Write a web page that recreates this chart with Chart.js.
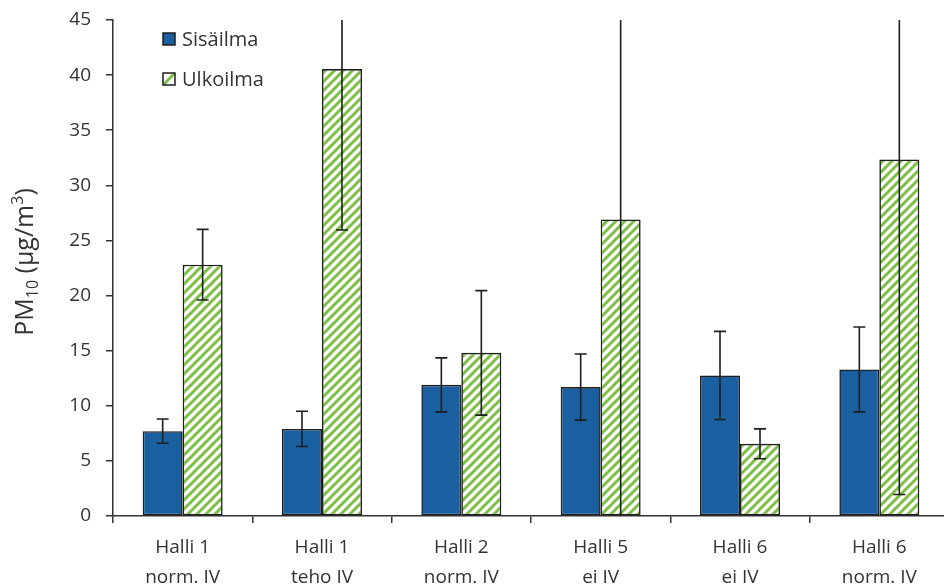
<!DOCTYPE html>
<html>
<head>
<meta charset="utf-8">
<script src="https://cdn.jsdelivr.net/npm/chart.js@4/dist/chart.umd.min.js"></script>
<style>
  html, body { margin: 0; padding: 0; background: #fff; overflow: hidden; }
  #wrap { width: 950px; height: 588px; }
</style>
</head>
<body>
<div id="wrap"><canvas id="c" width="950" height="588"></canvas></div>
<script>
// Measurement sites (two-line labels)
const categories = [
  ['Halli 1', 'norm. IV'],
  ['Halli 1', 'teho IV'],
  ['Halli 2', 'norm. IV'],
  ['Halli 5', 'ei IV'],
  ['Halli 6', 'ei IV'],
  ['Halli 6', 'norm. IV']
];
const seriesNames = ['Sisäilma', 'Ulkoilma'];
// PM10 means (µg/m³) and error-bar half-widths
const indoorValues = [7.7, 7.9, 11.9, 11.7, 12.75, 13.3];
const indoorErrors = [1.1, 1.6, 2.45, 3.0, 4.0, 3.85];
const outdoorValues = [22.8, 40.55, 14.8, 26.9, 6.55, 32.35];
const outdoorErrors = [3.2, 14.6, 5.65, 28.5, 1.35, 30.4];
const yMin = 0, yMax = 45, yStep = 5;

const FONT = '"Open Sans", sans-serif';
const TEXT = '#333333';
const AXIS = '#333333';
const BLUE = '#1a5f9f';
const GREEN = '#7cc043';

// diagonal green stripes on white
function stripePattern() {
  const s = 9;
  const c = document.createElement('canvas');
  c.width = s; c.height = s;
  const g = c.getContext('2d');
  g.fillStyle = '#fff';
  g.fillRect(0, 0, s, s);
  g.strokeStyle = GREEN;
  g.lineWidth = 3;
  g.beginPath();
  g.moveTo(-1, s + 1); g.lineTo(s + 1, -1);
  g.moveTo(-s / 2 - 1, s / 2 + 1); g.lineTo(s / 2 + 1, -s / 2 - 1);
  g.moveTo(s / 2 - 1, 1.5 * s + 1); g.lineTo(1.5 * s + 1, s / 2 - 1);
  g.stroke();
  return document.getElementById('c').getContext('2d').createPattern(c, 'repeat');
}
const stripes = stripePattern();

const errorBars = {
  id: 'errorBars',
  afterDatasetsDraw(chart) {
    const { ctx, chartArea: a, scales: { y } } = chart;
    const errs = [indoorErrors, outdoorErrors];
    ctx.save();
    ctx.beginPath();
    ctx.rect(a.left, a.top, a.right - a.left, a.bottom - a.top);
    ctx.clip();
    ctx.strokeStyle = '#1e1e1e';
    ctx.lineWidth = 1.6;
    chart.data.datasets.forEach((ds, di) => {
      const meta = chart.getDatasetMeta(di);
      meta.data.forEach((bar, i) => {
        const v = ds.data[i], e = errs[di][i];
        const yt = y.getPixelForValue(v + e);
        const yb = y.getPixelForValue(v - e);
        const x = bar.x, cap = 6;
        ctx.beginPath();
        ctx.moveTo(x, yt); ctx.lineTo(x, yb);
        ctx.moveTo(x - cap, yt); ctx.lineTo(x + cap, yt);
        ctx.moveTo(x - cap, yb); ctx.lineTo(x + cap, yb);
        ctx.stroke();
      });
    });
    ctx.restore();
  }
};

const legendAndTitle = {
  id: 'legendAndTitle',
  afterDraw(chart) {
    const ctx = chart.ctx;
    ctx.save();
    // legend
    const rows = [
      { label: seriesNames[0], y: 39, fill: BLUE, stripe: false },
      { label: seriesNames[1], y: 79, fill: '#fff', stripe: true }
    ];
    ctx.font = '20px ' + FONT;
    ctx.textBaseline = 'middle';
    rows.forEach(r => {
      const bx = 163, by = r.y - 6, bs = 12;
      ctx.fillStyle = r.fill;
      ctx.fillRect(bx, by, bs, bs);
      if (r.stripe) {
        ctx.save();
        ctx.beginPath(); ctx.rect(bx, by, bs, bs); ctx.clip();
        ctx.strokeStyle = GREEN; ctx.lineWidth = 3;
        ctx.beginPath(); ctx.moveTo(bx, by + bs); ctx.lineTo(bx + bs, by); ctx.stroke();
        ctx.restore();
      }
      ctx.strokeStyle = '#1e1e1e'; ctx.lineWidth = 1.5;
      ctx.strokeRect(bx, by, bs, bs);
      ctx.fillStyle = TEXT;
      ctx.textAlign = 'left';
      ctx.fillText(r.label, 182, r.y + 1);
    });
    // y-axis title: PM10 (µg/m3)
    const parts = [
      { t: 'PM', size: 25, dy: 0 },
      { t: '10', size: 16, dy: 5 },
      { t: ' (µg/m', size: 25, dy: 0 },
      { t: '3', size: 16, dy: -10 },
      { t: ')', size: 25, dy: 0 }
    ];
    let total = 0;
    parts.forEach(p => { ctx.font = p.size + 'px ' + FONT; p.w = ctx.measureText(p.t).width; total += p.w; });
    ctx.translate(33, 262);
    ctx.rotate(-Math.PI / 2);
    ctx.textAlign = 'left';
    ctx.textBaseline = 'alphabetic';
    ctx.fillStyle = TEXT;
    let x = -total / 2;
    parts.forEach(p => {
      ctx.font = p.size + 'px ' + FONT;
      ctx.fillText(p.t, x, 0 + p.dy);
      x += p.w;
    });
    ctx.restore();
  }
};

new Chart(document.getElementById('c'), {
  type: 'bar',
  data: {
    labels: categories,
    datasets: [
      { label: seriesNames[0], data: indoorValues, backgroundColor: BLUE,
        borderColor: '#1e1e1e', borderWidth: 1.6, borderSkipped: false },
      { label: seriesNames[1], data: outdoorValues, backgroundColor: stripes,
        borderColor: '#1e1e1e', borderWidth: 1.6, borderSkipped: false }
    ]
  },
  options: {
    responsive: false,
    animation: false,
    devicePixelRatio: 1,
    categoryPercentage: 0.574,
    barPercentage: 1,
    layout: { padding: { top: 20, right: 1, left: 0, bottom: 0 } },
    plugins: { legend: { display: false }, tooltip: { enabled: false } },
    scales: {
      x: {
        grid: { display: true, drawOnChartArea: false, offset: true,
                tickLength: 7, color: AXIS, lineWidth: 1.5 },
        border: { display: true, color: AXIS, width: 1.5 },
        ticks: { color: TEXT, font: { family: FONT, size: 19, lineHeight: 1.55 },
                 padding: 10, maxRotation: 0, autoSkip: false },
        afterFit(s) { s.height = 72; s.paddingLeft = 0; s.paddingRight = 0; }
      },
      y: {
        min: yMin, max: yMax,
        grid: { display: true, drawOnChartArea: false, tickLength: 7,
                color: AXIS, lineWidth: 1.5 },
        border: { display: true, color: AXIS, width: 1.5 },
        ticks: { stepSize: yStep, color: TEXT, padding: 15,
                 font: { family: FONT, size: 19 } },
        afterFit(s) { s.width = 113; s.paddingTop = 0; s.paddingBottom = 0; }
      }
    }
  },
  plugins: [errorBars, legendAndTitle]
});
</script>
</body>
</html>
